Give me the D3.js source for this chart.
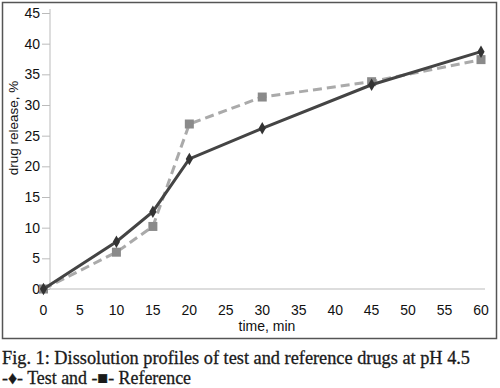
<!DOCTYPE html>
<html>
<head>
<meta charset="utf-8">
<script src="https://cdn.jsdelivr.net/npm/d3@7"></script>
<style>
  body { margin: 0; background: #fff; }
</style>
</head>
<body>
<script>
// data
const times = [0, 10, 15, 20, 30, 45, 60];
const testValues = [0, 7.7, 12.6, 21.2, 26.2, 33.3, 38.7];
const referenceValues = [0, 6.0, 10.2, 26.9, 31.3, 33.8, 37.4];
const xTicks = [0, 5, 10, 15, 20, 25, 30, 35, 40, 45, 50, 55, 60];
const yTicks = [0, 5, 10, 15, 20, 25, 30, 35, 40, 45];

const svg = d3.select('body').append('svg')
    .attr('width', 500)
    .attr('height', 388);

// frame around the chart
svg.append('rect')
    .attr('x', 2.5).attr('y', 2.5)
    .attr('width', 494).attr('height', 336)
    .attr('fill', 'none')
    .attr('stroke', '#555')
    .attr('stroke-width', 1.5);

const x = d3.scaleLinear().domain([0, 60]).range([43.5, 481]);
const y = d3.scaleLinear().domain([0, 45]).range([289, 13]);
const axisX = 50;

// y axis
const yAxis = svg.append('g')
    .attr('transform', `translate(${axisX},0)`)
    .call(d3.axisLeft(y).tickValues(yTicks).tickSize(8).tickPadding(2));
yAxis.select('.domain').attr('stroke', '#bbb').attr('d', `M0,${y(45) - 4}V${y(0)}`);
yAxis.selectAll('.tick line').attr('stroke', '#bbb');
yAxis.selectAll('.tick text')
    .attr('font-family', 'Liberation Sans, Arial, sans-serif')
    .attr('font-size', 14)
    .attr('fill', '#111');

// x axis line
svg.append('line')
    .attr('x1', axisX).attr('x2', 485)
    .attr('y1', y(0)).attr('y2', y(0))
    .attr('stroke', '#bbb');

svg.append('g')
    .selectAll('text')
    .data(xTicks)
    .enter()
    .append('text')
    .attr('x', d => x(d))
    .attr('y', 315)
    .attr('text-anchor', 'middle')
    .attr('font-family', 'Liberation Sans, Arial, sans-serif')
    .attr('font-size', 14)
    .attr('fill', '#111')
    .text(d => d);

// axis titles
svg.append('text')
    .attr('x', 267).attr('y', 331)
    .attr('text-anchor', 'middle')
    .attr('font-family', 'Liberation Sans, Arial, sans-serif')
    .attr('font-size', 14)
    .attr('fill', '#111')
    .text('time, min');

svg.append('text')
    .attr('transform', 'translate(18,128) rotate(-90)')
    .attr('text-anchor', 'middle')
    .attr('font-family', 'Liberation Sans, Arial, sans-serif')
    .attr('font-size', 13.5)
    .attr('fill', '#111')
    .text('drug release, %');

const line = d3.line()
    .x(d => x(d[0]))
    .y(d => y(d[1]));

const testData = times.map((t, i) => [t, testValues[i]]);
const refData = times.map((t, i) => [t, referenceValues[i]]);

// reference series: dashed light grey with squares
svg.append('path')
    .datum(refData)
    .attr('d', line)
    .attr('fill', 'none')
    .attr('stroke', '#aaa')
    .attr('stroke-width', 3)
    .attr('stroke-dasharray', '9,5');

svg.selectAll('.ref-mark')
    .data(refData)
    .enter()
    .append('rect')
    .attr('class', 'ref-mark')
    .attr('x', d => x(d[0]) - 4.5)
    .attr('y', d => y(d[1]) - 4.5)
    .attr('width', 9)
    .attr('height', 9)
    .attr('fill', '#8a8a8a');

// test series: solid dark grey with diamonds
svg.append('path')
    .datum(testData)
    .attr('d', line)
    .attr('fill', 'none')
    .attr('stroke', '#444')
    .attr('stroke-width', 3);

svg.selectAll('.test-mark')
    .data(testData)
    .enter()
    .append('path')
    .attr('class', 'test-mark')
    .attr('d', d3.symbol().type(d3.symbolDiamond).size(45))
    .attr('transform', d => `translate(${x(d[0])},${y(d[1])})`)
    .attr('fill', '#333');

// caption
const caption = svg.append('g')
    .attr('font-family', 'Liberation Serif, Times New Roman, serif')
    .attr('font-size', 18)
    .attr('fill', '#1a1a1a')
    .attr('stroke', '#1a1a1a')
    .attr('stroke-width', 0.3);

caption.append('text')
    .attr('x', 2).attr('y', 364)
    .attr('textLength', 468)
    .attr('lengthAdjust', 'spacingAndGlyphs')
    .text('Fig. 1: Dissolution profiles of test and reference drugs at pH 4.5');

caption.append('text')
    .attr('x', 2).attr('y', 384)
    .attr('textLength', 189)
    .attr('lengthAdjust', 'spacingAndGlyphs')
    .text('-\u2666- Test and -\u25A0- Reference');
</script>
</body>
</html>
